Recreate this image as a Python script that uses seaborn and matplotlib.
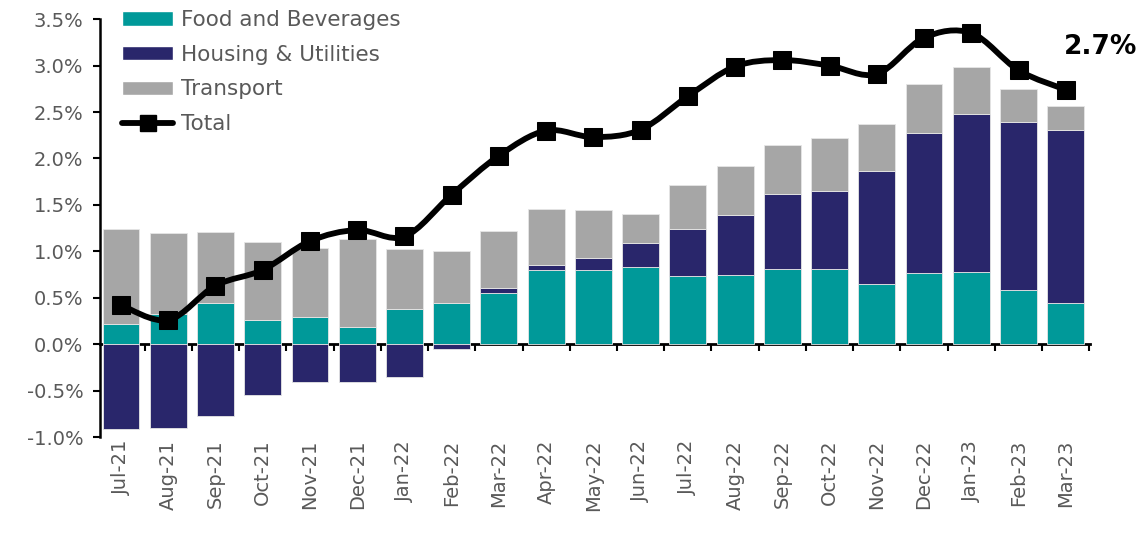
import matplotlib
matplotlib.use("Agg")
import matplotlib.pyplot as plt
from matplotlib.path import Path
from matplotlib.patches import PathPatch, Patch
from matplotlib.lines import Line2D
import seaborn as sns
import numpy as np
import pandas as pd

months = ["Jul-21", "Aug-21", "Sep-21", "Oct-21", "Nov-21", "Dec-21", "Jan-22",
          "Feb-22", "Mar-22", "Apr-22", "May-22", "Jun-22", "Jul-22", "Aug-22",
          "Sep-22", "Oct-22", "Nov-22", "Dec-22", "Jan-23", "Feb-23", "Mar-23"]
food = [0.22, 0.33, 0.44, 0.26, 0.29, 0.19, 0.38, 0.44, 0.55, 0.80, 0.80,
        0.83, 0.73, 0.75, 0.81, 0.81, 0.65, 0.77, 0.78, 0.58, 0.44]
housing = [-0.91, -0.90, -0.77, -0.55, -0.41, -0.41, -0.35, -0.05, 0.05, 0.055, 0.125,
           0.26, 0.51, 0.645, 0.81, 0.84, 1.215, 1.505, 1.70, 1.81, 1.87]
transport = [1.02, 0.87, 0.77, 0.84, 0.75, 0.94, 0.64, 0.56, 0.62, 0.605, 0.525,
             0.315, 0.47, 0.52, 0.52, 0.57, 0.51, 0.525, 0.50, 0.36, 0.255]
total = [0.42, 0.26, 0.63, 0.80, 1.11, 1.23, 1.16, 1.61, 2.03, 2.30, 2.23,
         2.31, 2.67, 2.99, 3.06, 3.00, 2.91, 3.30, 3.35, 2.95, 2.74]

c_food = "#009999"
c_housing = "#29266b"
c_transport = "#a6a6a6"
c_text = "#595959"

df = pd.DataFrame({"month": months, "food": food, "housing": housing,
                   "transport": transport, "total": total})
df["x"] = np.arange(len(df))
# stacking: positives pile up from zero, negative housing hangs below
df["housing_bottom"] = np.where(df["housing"] >= 0, df["food"], 0.0)
df["transport_bottom"] = df["food"] + df["housing"].clip(lower=0)

sns.set_theme(style="white")
plt.rcParams['font.family'] = ['DejaVu Sans']

fig = plt.figure(figsize=(11.43, 5.33), dpi=100)
ax = fig.add_axes([0.0875, 0.18, 0.866, 0.784])

bar_kw = dict(width=0.78, edgecolor="#e6e6e6", linewidth=0.6, order=months, ax=ax)
sns.barplot(data=df, x="month", y="food", color=c_food, saturation=1, **bar_kw)
sns.barplot(data=df, x="month", y="housing", bottom=df["housing_bottom"].to_numpy(),
            color=c_housing, saturation=1, **bar_kw)
sns.barplot(data=df, x="month", y="transport", bottom=df["transport_bottom"].to_numpy(),
            color=c_transport, saturation=1, **bar_kw)

# smoothed total line (cubic bezier through the points, like excel smoothing)
pts = df[["x", "total"]].to_numpy(dtype=float)
verts = [pts[0]]
codes = [Path.MOVETO]
n = len(pts)
for i in range(n - 1):
    p0 = pts[i - 1] if i > 0 else pts[i]
    p1, p2 = pts[i], pts[i + 1]
    p3 = pts[i + 2] if i + 2 < n else pts[i + 1]
    verts += [p1 + (p2 - p0) / 6, p2 - (p3 - p1) / 6, p2]
    codes += [Path.CURVE4] * 3
ax.add_patch(PathPatch(Path(verts, codes), fill=False, edgecolor="black",
                       linewidth=4.2, capstyle="round", joinstyle="round", zorder=4))
sns.lineplot(data=df, x="x", y="total", ax=ax, linestyle="", marker="s",
             markersize=13, color="black", markeredgecolor="black", zorder=5)

ax.annotate("2.7%", xy=(df["x"].iloc[-1], df["total"].iloc[-1]), xytext=(25, 31),
            textcoords="offset points", ha="center", va="center",
            fontsize=19, fontweight="bold", color="black")

ax.set_xlim(-0.444, 20.51)
ax.set_ylim(-1.0, 3.5)
ax.set_yticks(np.arange(-1.0, 3.51, 0.5))
ax.set_yticklabels([f"{v:.1f}%" for v in np.arange(-1.0, 3.51, 0.5)])
ax.set_xlabel("")
ax.set_ylabel("")
ax.set_xticks(range(len(months)))
ax.set_xticklabels(months, rotation=90)

for s in ["top", "right", "bottom"]:
    ax.spines[s].set_visible(False)
ax.spines["left"].set_color("black")
ax.spines["left"].set_linewidth(1.8)
ax.tick_params(axis="y", left=True, direction="out", length=5, width=1.5,
               color="black", labelsize=14, labelcolor=c_text, pad=7)
ax.tick_params(axis="x", bottom=False, length=0, labelsize=14,
               labelcolor=c_text, pad=2)

# category axis line sitting on zero, with ticks between the bars
zero_ax = ax.secondary_xaxis(1.0 / 4.5)
zero_ax.spines["bottom"].set_linewidth(2)
zero_ax.spines["bottom"].set_color("black")
zero_ax.set_xticks(np.arange(0.5, 21, 1))
zero_ax.tick_params(axis="x", direction="out", length=5, width=1.5,
                    color="black", labelbottom=False)

handles = [Patch(facecolor=c_food, label="Food and Beverages"),
           Patch(facecolor=c_housing, label="Housing & Utilities"),
           Patch(facecolor=c_transport, label="Transport"),
           Line2D([], [], color="black", linewidth=4.2, marker="s",
                  markersize=11, label="Total")]
ax.legend(handles=handles, loc="upper left", bbox_to_anchor=(0.022, 1.022),
          frameon=False, fontsize=15.5, labelcolor=c_text, handlelength=2.4,
          handleheight=0.65, handletextpad=0.35, labelspacing=0.68,
          borderaxespad=0, borderpad=0)

fig.savefig("out.png", dpi=100)
